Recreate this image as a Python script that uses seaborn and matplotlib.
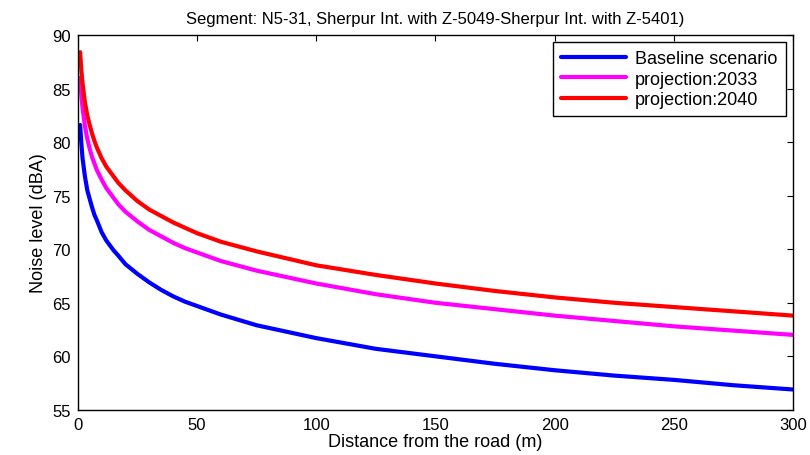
import matplotlib
matplotlib.use("Agg")
import matplotlib.pyplot as plt
import seaborn as sns
import pandas as pd

# Distance from the road (m) and noise levels (dBA)
distance = [1, 1.5, 2, 3, 4, 5, 6, 7, 8, 10, 12, 15, 17, 20, 25, 30, 35, 40, 45, 50, 60, 75,
            100, 125, 150, 175, 200, 225, 250, 275, 300]
baseline = [81.6, 79.9, 78.5, 76.8, 75.5, 74.7, 73.9, 73.2, 72.7, 71.6, 70.8, 69.9, 69.4,
            68.6, 67.7, 66.9, 66.2, 65.6, 65.1, 64.7, 63.9, 62.9, 61.7, 60.7, 60.0, 59.3,
            58.7, 58.2, 57.8, 57.3, 56.9]
proj_2033 = [86.0, 84.4, 83.2, 81.5, 80.3, 79.4, 78.6, 78.0, 77.4, 76.5, 75.7, 74.8, 74.2,
             73.5, 72.6, 71.8, 71.2, 70.6, 70.1, 69.7, 68.9, 68.0, 66.8, 65.8, 65.0, 64.4,
             63.8, 63.3, 62.8, 62.4, 62.0]
proj_2040 = [88.4, 86.7, 85.5, 83.7, 82.5, 81.6, 80.8, 80.1, 79.5, 78.5, 77.7, 76.8, 76.2,
             75.5, 74.5, 73.7, 73.1, 72.5, 72.0, 71.5, 70.7, 69.8, 68.5, 67.6, 66.8, 66.1,
             65.5, 65.0, 64.6, 64.2, 63.8]

series = ["Baseline scenario", "projection:2033", "projection:2040"]
colors = ["#0000ff", "#ff00ff", "#ff0000"]

df = pd.concat([
    pd.DataFrame({"distance": distance, "noise": vals, "scenario": name})
    for name, vals in zip(series, [baseline, proj_2033, proj_2040])
])

sns.set_style("white")
plt.rcParams['font.family'] = ['Liberation Sans', 'DejaVu Sans']
plt.rcParams['text.color'] = 'black'
plt.rcParams['axes.labelcolor'] = 'black'
plt.rcParams['xtick.color'] = 'black'
plt.rcParams['ytick.color'] = 'black'

fig = plt.figure(figsize=(8.1, 4.56), dpi=100)
ax = fig.add_axes([0.096, 0.099, 0.883, 0.822])

sns.lineplot(data=df, x="distance", y="noise", hue="scenario",
             palette=dict(zip(series, colors)), linewidth=3, ax=ax)

ax.set_xlim(0, 300)
ax.set_ylim(55, 90)
ax.set_xticks(range(0, 301, 50))
ax.set_yticks(range(55, 91, 5))
ax.tick_params(axis='both', which='both', direction='in', length=4, width=0.8,
               top=True, right=True, labelsize=12, color='black', pad=5)
for s in ax.spines.values():
    s.set_color('black')
    s.set_linewidth(1.0)

ax.set_xlabel("Distance from the road (m)", fontsize=13, labelpad=1)
ax.set_ylabel("Noise level (dBA)", fontsize=13, labelpad=4)
ax.set_title("Segment: N5-31, Sherpur Int. with Z-5049-Sherpur Int. with Z-5401)",
             fontsize=12, pad=9)

leg = ax.legend(loc='upper right', fontsize=13, frameon=True, fancybox=False,
                edgecolor='black', framealpha=1, handlelength=3.6, handletextpad=0.5,
                labelspacing=0.18, borderaxespad=0.4, borderpad=0.45)
leg.get_frame().set_linewidth(1.0)

fig.savefig("out.png", dpi=100)
